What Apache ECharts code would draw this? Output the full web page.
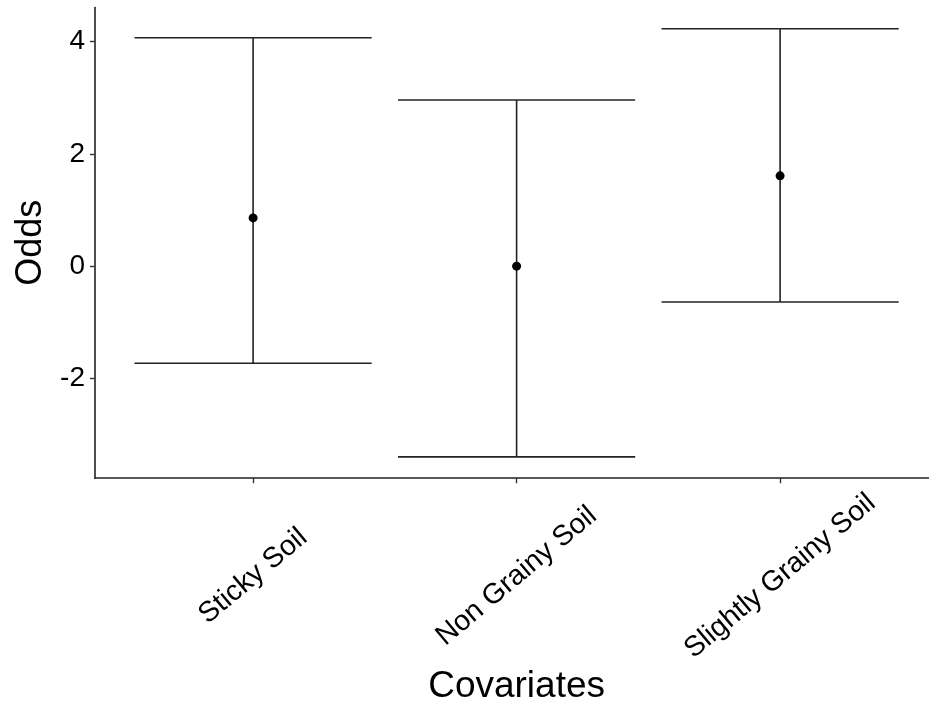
<!DOCTYPE html>
<html>
<head>
<meta charset="utf-8">
<script src="https://cdn.jsdelivr.net/npm/echarts@6/dist/echarts.min.js"></script>
<style>
html,body{margin:0;padding:0;background:#fff;}
#chart{width:929px;height:708px;}
</style>
</head>
<body>
<div id="chart"></div>
<script>
// ---- data ----
var categories = ['Sticky Soil', 'Non Grainy Soil', 'Slightly Grainy Soil'];
var estimates  = [0.86, 0.00, 1.61];
var lowerCI    = [-1.73, -3.40, -0.64];
var upperCI    = [4.07, 2.96, 4.23];
var yTicks     = [-2, 0, 2, 4];
var xPositions = [1, 2, 3];

var seriesData = categories.map(function (c, i) {
  return [xPositions[i], estimates[i], lowerCI[i], upperCI[i]];
});

var chart = echarts.init(document.getElementById('chart'), null, {renderer: 'canvas'});
var FONT = 'Liberation Sans, Arial, sans-serif';
var CAP_HALF = 0.45;

chart.setOption({
  animation: false,
  backgroundColor: '#ffffff',
  grid: {left: 95, top: 7.5, width: 843.2, bottom: 229.8, containLabel: false, outerBoundsMode: 'none'},
  xAxis: {
    type: 'value',
    min: 0.4,
    max: 3.6,
    splitLine: {show: false},
    axisLine: {show: true, onZero: false, lineStyle: {color: '#222', width: 1.6}},
    axisTick: {show: true, customValues: xPositions, length: 5, lineStyle: {color: '#333', width: 1.4}},
    axisLabel: {
      customValues: xPositions,
      formatter: function (v) { return categories[Math.round(v) - 1] || ''; },
      rotate: 40,
      align: 'center',
      verticalAlign: 'middle',
      margin: 98,
      fontSize: 28.5,
      fontFamily: FONT,
      color: '#000'
    },
    name: 'Covariates',
    nameLocation: 'middle',
    nameGap: 190,
    nameMoveOverlap: false,
    nameTextStyle: {fontSize: 37, fontFamily: FONT, color: '#000'}
  },
  yAxis: {
    type: 'value',
    min: -3.78,
    max: 4.61,
    splitLine: {show: false},
    axisLine: {show: true, onZero: false, lineStyle: {color: '#222', width: 1.6}},
    axisTick: {show: true, customValues: yTicks, length: 5, lineStyle: {color: '#333', width: 1.4}},
    axisLabel: {
      customValues: yTicks,
      margin: 10,
      fontSize: 28,
      fontFamily: FONT,
      color: '#000'
    },
    name: 'Odds',
    nameLocation: 'middle',
    nameRotate: 90,
    nameGap: 46,
    nameMoveOverlap: false,
    nameTextStyle: {fontSize: 36, fontFamily: FONT, color: '#000'}
  },
  series: [{
    type: 'custom',
    data: seriesData,
    encode: {x: 0, y: [1, 2, 3]},
    renderItem: function (params, api) {
      var x = api.value(0);
      var est = api.coord([x, api.value(1)]);
      var lo = api.coord([x, api.value(2)]);
      var hi = api.coord([x, api.value(3)]);
      var capL = api.coord([x - CAP_HALF, api.value(2)])[0];
      var capR = api.coord([x + CAP_HALF, api.value(2)])[0];
      var ls = {stroke: '#222', lineWidth: 1.6};
      return {
        type: 'group',
        children: [
          {type: 'line', shape: {x1: lo[0], y1: lo[1], x2: hi[0], y2: hi[1]}, style: ls},
          {type: 'line', shape: {x1: capL, y1: hi[1], x2: capR, y2: hi[1]}, style: ls},
          {type: 'line', shape: {x1: capL, y1: lo[1], x2: capR, y2: lo[1]}, style: ls},
          {type: 'circle', shape: {cx: est[0], cy: est[1], r: 4.5}, style: {fill: '#000'}}
        ]
      };
    }
  }]
});
</script>
</body>
</html>
